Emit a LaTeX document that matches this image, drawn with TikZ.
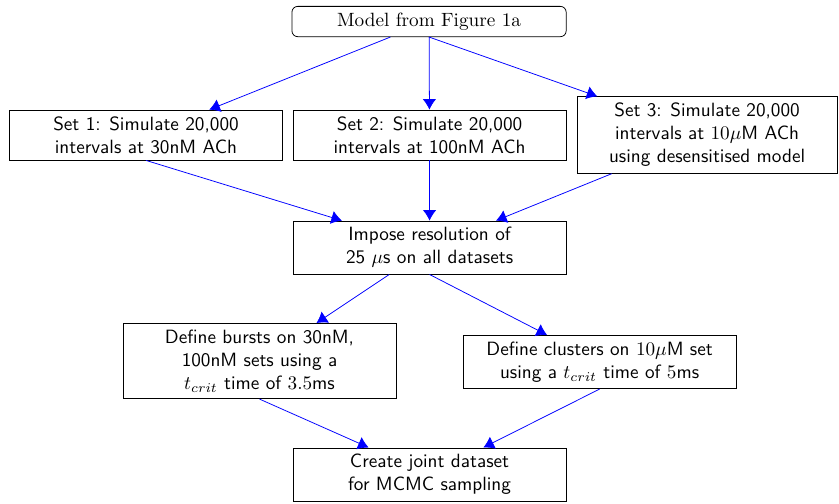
\documentclass[tikz,border=0pt]{standalone}
\usepackage{amsmath}
\usepackage{tikz}
\usetikzlibrary{arrows.meta}

\begin{document}
\begin{tikzpicture}[
        stepbox/.style={draw, minimum width=5cm, align=center, font=\sffamily},
        modelbox/.style={draw, rounded corners=3pt, minimum width=5.02cm, align=center},
        flow/.style={blue, -{Latex[length=5.5pt,width=7pt]}}
    ]
        \useasboundingbox (0,0) rectangle (15.36,-9.21);

        % Draw the model
        \node[modelbox] (model) at (7.855,-0.394) {Model from Figure 1a};

        % Draw the simulated sets
        \node[stepbox] (set1) at (2.673,-2.472) {Set 1: Simulate 20,000\\intervals at 30nM ACh};
        \node[stepbox] (set2) at (7.864,-2.472) {Set 2: Simulate 20,000\\intervals at 100nM ACh};
        \node[stepbox, minimum width=4.76cm] (set3) at (12.945,-2.472) {Set 3: Simulate 20,000\\intervals at $10\mu$M ACh\\using desensitised model};

        % Draw the processing steps
        \node[stepbox] (impose) at (7.864,-4.532) {Impose resolution of\\25 $\mu$s on all datasets};
        \node[stepbox] (bursts) at (4.751,-6.610) {Define bursts on 30nM,\\100nM sets using a\\$t_{crit}$ time of $3.5$ms};
        \node[stepbox] (clusters) at (10.977,-6.628) {Define clusters on $10\mu$M set\\using a $t_{crit}$ time of $5$ms};
        \node[stepbox] (joint) at (7.864,-8.688) {Create joint dataset\\for MCMC sampling};

        % Draw the arrows
        \draw[flow] (model) -- (set1);
        \draw[flow] (model) -- (set2);
        \draw[flow] (model.south) -- (set3);
        \draw[flow] (set1.south) -- (impose);
        \draw[flow] (set2) -- (impose);
        \draw[flow] (set3) -- (impose);
        \draw[flow] (impose) -- (bursts);
        \draw[flow] (impose.south) -- (clusters);
        \draw[flow] (bursts.south) -- (joint);
        \draw[flow] (clusters.south) -- (joint);
    \end{tikzpicture}
\end{document}
